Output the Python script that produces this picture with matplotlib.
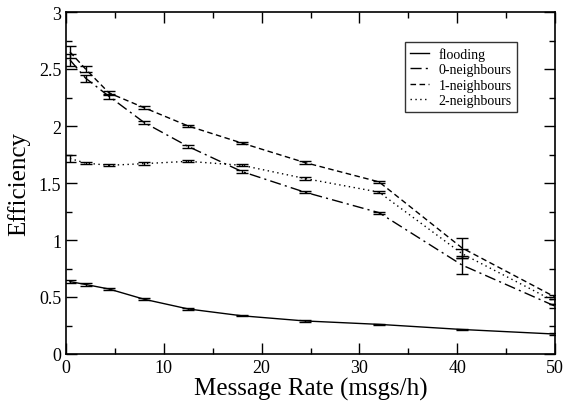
import matplotlib
matplotlib.use("Agg")
import matplotlib.pyplot as plt
from matplotlib.ticker import MultipleLocator

plt.rcParams['font.family'] = ['Liberation Serif', 'DejaVu Serif']
plt.rcParams['mathtext.fontset'] = 'stix'

rate = [0.4, 2.0, 4.4, 8.0, 12.5, 18.0, 24.4, 32.0, 40.5, 50.0]

flooding = [0.635, 0.61, 0.57, 0.48, 0.395, 0.335, 0.29, 0.26, 0.215, 0.175]
flooding_err = [0.01, 0.01, 0.008, 0.008, 0.006, 0.005, 0.005, 0.005, 0.005, 0.005]

n0 = [2.58, 2.42, 2.26, 2.03, 1.82, 1.60, 1.42, 1.24, 0.78, 0.42]
n0_err = [0.05, 0.03, 0.02, 0.015, 0.015, 0.01, 0.01, 0.01, 0.08, 0.02]

n1 = [2.65, 2.50, 2.29, 2.16, 2.00, 1.85, 1.68, 1.51, 0.93, 0.50]
n1_err = [0.05, 0.03, 0.02, 0.015, 0.01, 0.01, 0.01, 0.01, 0.09, 0.02]

n2 = [1.715, 1.675, 1.655, 1.67, 1.69, 1.655, 1.54, 1.42, 0.88, 0.46]
n2_err = [0.035, 0.012, 0.01, 0.01, 0.01, 0.01, 0.01, 0.01, 0.04, 0.02]

series = [
    ("flooding", flooding, flooding_err, "-"),
    ("0-neighbours", n0, n0_err, (0, (8, 3, 1.5, 3))),
    ("1-neighbours", n1, n1_err, (0, (4, 2.5))),
    ("2-neighbours", n2, n2_err, (0, (1, 2.5))),
]

fig = plt.figure(figsize=(5.64, 4.02), dpi=100)
ax = fig.add_axes([66 / 564, 1 - 355 / 402, (555 - 66) / 564, (355 - 13) / 402])

for name, vals, errs, ls in series:
    ax.errorbar(rate, vals, yerr=errs, color="black", linestyle=ls, linewidth=1.0,
                elinewidth=1.0, capsize=4, capthick=1.0, label=name)

ax.set_xlim(0, 50)
ax.set_ylim(0, 3)
ax.xaxis.set_major_locator(MultipleLocator(10))
ax.xaxis.set_minor_locator(MultipleLocator(5))
ax.yaxis.set_major_locator(MultipleLocator(0.5))
ax.yaxis.set_minor_locator(MultipleLocator(0.25))
ax.tick_params(which="both", direction="in", top=True, right=True, labelsize=13, width=1.0)
ax.tick_params(which="major", length=8)
ax.tick_params(which="minor", length=4)
ax.set_yticks([0, 0.5, 1, 1.5, 2, 2.5, 3])
ax.set_yticklabels(["0", "0.5", "1", "1.5", "2", "2.5", "3"])
for s in ax.spines.values():
    s.set_linewidth(1.2)

ax.set_xlabel("Message Rate (msgs/h)", fontsize=18, labelpad=1)
ax.set_ylabel("Efficiency", fontsize=18, labelpad=6)

handles, labels = ax.get_legend_handles_labels()
handles = [h[0] for h in handles]
leg = ax.legend(handles, labels, loc="upper right", bbox_to_anchor=(0.922, 0.912),
                borderaxespad=0, fontsize=10, frameon=True, fancybox=False,
                edgecolor="black", handlelength=1.4, handletextpad=0.7,
                borderpad=0.35, labelspacing=0.18)
leg.get_frame().set_linewidth(1.0)

fig.savefig("out.png", dpi=100)
